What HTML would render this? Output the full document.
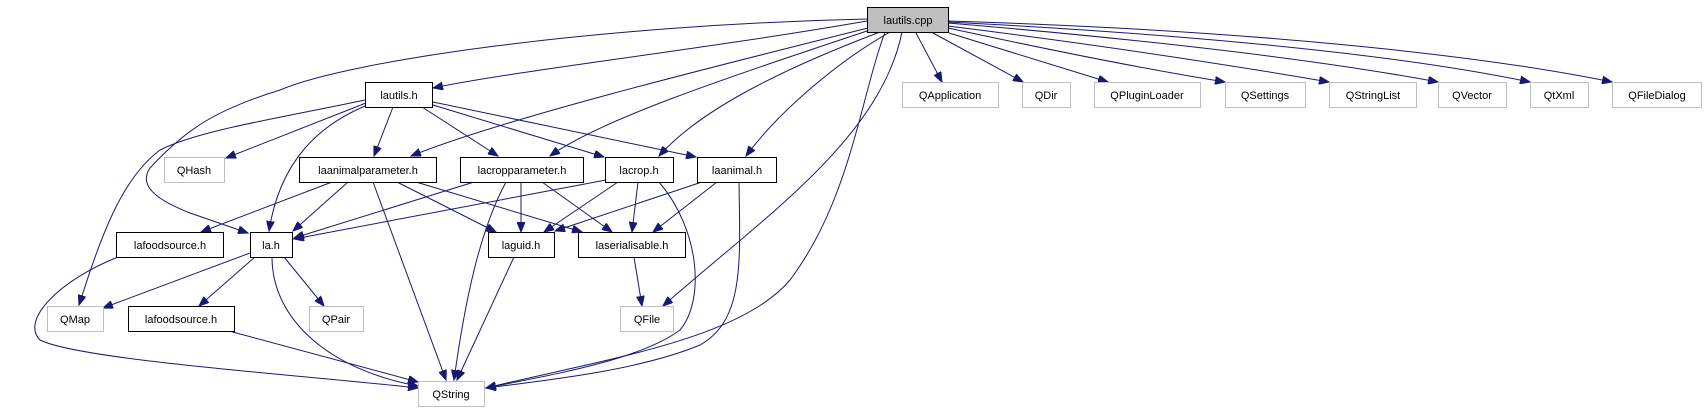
<!DOCTYPE html>
<html><head><meta charset="utf-8"><style>
html,body{margin:0;padding:0;background:#fff;}
svg{display:block;}
text{font-family:"Liberation Sans",sans-serif;font-size:11px;text-anchor:middle;fill:#000;}
</style></head><body>
<svg width="1704" height="411" viewBox="0 0 1704 411" xmlns="http://www.w3.org/2000/svg">
<defs>
<marker id="a" markerWidth="11" markerHeight="8" refX="10" refY="4" orient="auto" markerUnits="userSpaceOnUse">
<path d="M0,0 L10,4 L0,8 z" fill="#191970" stroke="#191970"/>
</marker>
</defs>
<g fill="none" stroke="#191970" stroke-width="1" marker-end="url(#a)">
<path d="M867,21 C700,50 520,70 433,88"/>
<path d="M867,19 C600,25 350,60 280,90 C215,110 185,130 150,168 C135,190 170,205 190,213 L248,233"/>
<path d="M868,28 C700,70 500,120 411,156"/>
<path d="M870,30 C720,80 600,120 550,156"/>
<path d="M880,32 C780,70 700,110 659,156"/>
<path d="M890,32 C840,60 780,110 746,156"/>
<path d="M902,32 C880,140 760,220 663,306"/>
<path d="M885,32 C860,100 850,200 790,280 C740,340 600,360 486,388"/>
<path d="M916,33 L942,82"/>
<path d="M933,33 L1023,82"/>
<path d="M949,33 L1108,82"/>
<path d="M948,28 C1050,50 1150,70 1225,82"/>
<path d="M948,26 C1100,45 1230,65 1329,82"/>
<path d="M948,23 C1150,40 1320,60 1438,82"/>
<path d="M948,22 C1200,35 1400,55 1530,82"/>
<path d="M948,21 C1250,30 1480,55 1612,82"/>
<path d="M366,103 L226,158"/>
<path d="M393,107 L374,156"/>
<path d="M422,107 L498,156"/>
<path d="M433,105 L604,157"/>
<path d="M433,102 L696,157"/>
<path d="M365,106 C320,125 280,160 269,231"/>
<path d="M365,100 C280,118 200,130 160,150 C120,180 100,240 79,305"/>
<path d="M332,182 L201,232"/>
<path d="M348,182 L293,231"/>
<path d="M373,182 L446,380"/>
<path d="M397,182 L496,232"/>
<path d="M416,182 L582,232"/>
<path d="M474,182 L294,238"/>
<path d="M506,182 C480,230 465,300 454,380"/>
<path d="M521,182 L521,232"/>
<path d="M542,182 L612,232"/>
<path d="M606,180 L294,239"/>
<path d="M618,182 L544,232"/>
<path d="M638,182 L632,232"/>
<path d="M659,182 C700,230 705,300 680,330 C640,360 550,375 486,388"/>
<path d="M702,182 L555,231"/>
<path d="M717,182 L653,232"/>
<path d="M739,182 C740,260 745,320 700,345 C640,370 550,380 486,388"/>
<path d="M118,257 C60,280 20,320 40,340 C80,360 300,375 418,388"/>
<path d="M250,253 L103,308"/>
<path d="M255,257 L199,306"/>
<path d="M284,257 L324,306"/>
<path d="M272,257 C272,320 330,370 418,386"/>
<path d="M514,257 L457,380"/>
<path d="M634,257 L642,306"/>
<path d="M229,331 L418,382"/>
</g>
<g stroke-width="1">
<rect x="867.5" y="7.5" width="81" height="25" fill="#bfbfbf" stroke="#000"/>
<g fill="#fff" stroke="#000">
<rect x="365.5" y="82.5" width="67" height="25"/>
<rect x="299.5" y="157.5" width="137" height="25"/>
<rect x="460.5" y="157.5" width="123" height="25"/>
<rect x="605.5" y="157.5" width="68" height="25"/>
<rect x="697.5" y="157.5" width="79" height="25"/>
<rect x="116.5" y="232.5" width="107" height="25"/>
<rect x="250.5" y="232.5" width="42" height="25"/>
<rect x="488.5" y="232.5" width="66" height="25"/>
<rect x="578.5" y="232.5" width="107" height="25"/>
<rect x="128.5" y="306.5" width="106" height="25"/>
</g>
<g fill="#fff" stroke="#bfbfbf">
<rect x="164.5" y="157.5" width="60" height="25"/>
<rect x="47.5" y="306.5" width="56" height="25"/>
<rect x="309.5" y="306.5" width="54" height="25"/>
<rect x="620.5" y="306.5" width="53" height="25"/>
<rect x="418.5" y="381.5" width="66" height="25"/>
<rect x="902.5" y="82.5" width="96" height="25"/>
<rect x="1022.5" y="82.5" width="48" height="25"/>
<rect x="1094.5" y="82.5" width="106" height="25"/>
<rect x="1225.5" y="82.5" width="80" height="25"/>
<rect x="1329.5" y="82.5" width="87" height="25"/>
<rect x="1438.5" y="82.5" width="68" height="25"/>
<rect x="1530.5" y="82.5" width="58" height="25"/>
<rect x="1612.5" y="82.5" width="89" height="25"/>
</g>
</g>
<text x="908" y="24">lautils.cpp</text>
<text x="399" y="99">lautils.h</text>
<text x="368" y="174">laanimalparameter.h</text>
<text x="522" y="174">lacropparameter.h</text>
<text x="639" y="174">lacrop.h</text>
<text x="737" y="174">laanimal.h</text>
<text x="170" y="249">lafoodsource.h</text>
<text x="271" y="249">la.h</text>
<text x="521" y="249">laguid.h</text>
<text x="632" y="249">laserialisable.h</text>
<text x="181" y="323">lafoodsource.h</text>
<text x="194" y="174">QHash</text>
<text x="75" y="323">QMap</text>
<text x="336" y="323">QPair</text>
<text x="647" y="323">QFile</text>
<text x="451" y="398">QString</text>
<text x="950" y="99">QApplication</text>
<text x="1046" y="99">QDir</text>
<text x="1147" y="99">QPluginLoader</text>
<text x="1265" y="99">QSettings</text>
<text x="1373" y="99">QStringList</text>
<text x="1472" y="99">QVector</text>
<text x="1559" y="99">QtXml</text>
<text x="1657" y="99">QFileDialog</text>
</svg>
</body></html>
